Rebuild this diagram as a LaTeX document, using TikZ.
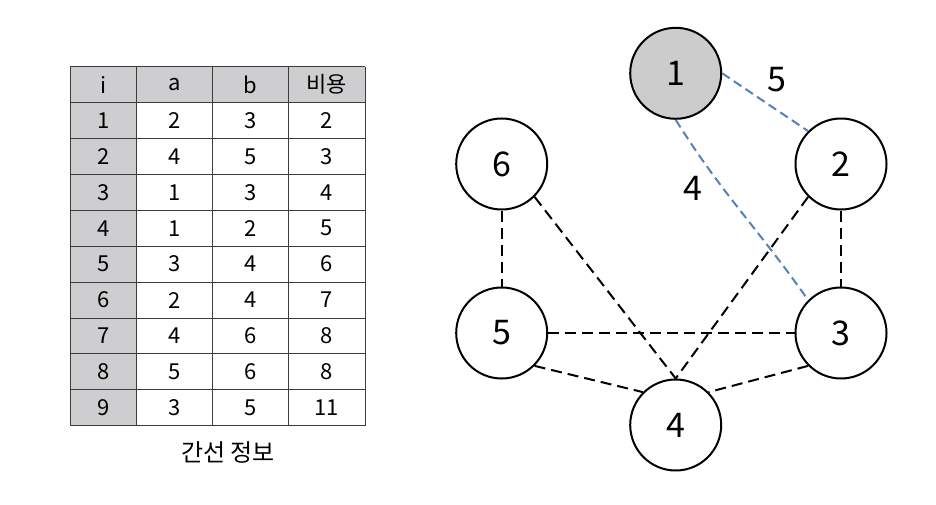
\documentclass[tikz,border=0pt]{standalone}
\usepackage{fontspec}
\setmainfont{Noto Sans CJK KR}
\definecolor{cellgray}{RGB}{206,205,207}
\definecolor{nodegray}{RGB}{204,204,204}
\definecolor{edgeblue}{RGB}{84,130,182}
\definecolor{tline}{RGB}{60,60,60}
\tikzset{
  vtx/.style={circle,draw=black,line width=2pt,minimum size=91pt,inner sep=0pt,font=\fontsize{34}{40}\selectfont},
  start/.style={vtx,fill=nodegray},
  edgeblk/.style={line width=2pt,dash pattern=on 11pt off 6pt},
  edgeblu/.style={line width=2pt,draw=edgeblue,dash pattern=on 9pt off 5pt},
  elabel/.style={font=\fontsize{34}{40}\selectfont,inner sep=0pt},
  cell/.style={font=\fontsize{22}{26}\selectfont,inner sep=0pt},
  caption/.style={font=\fontsize{24}{28}\selectfont,inner sep=0pt},
  gridln/.style={draw=tline,line width=1pt}
}
\begin{document}
\begin{tikzpicture}[x=1pt,y=-1pt]
\useasboundingbox (0,0) rectangle (936,505);
% ---- table ----
\fill[cellgray] (70,66.7) rectangle (365,102.6);
\fill[cellgray] (70,102.6) rectangle (136.7,425.7);
\foreach \k in {0,...,10}{
  \draw[gridln] (70,66.7+\k*35.9) -- (365,66.7+\k*35.9);
}
\foreach \xx in {70,136.7,212.3,288.7,365}{
  \draw[gridln] (\xx,66.7) -- (\xx,425.7);
}
\node[cell] (h-i) at (103.35,84.65) {i};
\node[cell] (h-a) at (174.5,84.65) {a};
\node[cell] (h-b) at (250.5,84.65) {b};
\node[cell] (h-c) at (326.85,84.65) {비용};
\foreach \r/\i/\a/\b/\c in {1/1/2/3/2,2/2/4/5/3,3/3/1/3/4,4/4/1/2/5,5/5/3/4/6,6/6/2/4/7,7/7/4/6/8,8/8/5/6/8,9/9/3/5/11}{
  \node[cell] (r\r-i) at (103.35,84.65+\r*35.9) {\i};
  \node[cell] (r\r-a) at (174.5,84.65+\r*35.9) {\a};
  \node[cell] (r\r-b) at (250.5,84.65+\r*35.9) {\b};
  \node[cell] (r\r-c) at (326.85,84.65+\r*35.9) {\c};
}
\node[caption] (cap) at (228,452) {간선 정보};
% ---- graph ----
\node[start] (n1) at (675.7,73.3) {1};
\node[vtx] (n2) at (841,164) {2};
\node[vtx] (n6) at (501.7,164) {6};
\node[vtx] (n5) at (501.7,333) {5};
\node[vtx] (n3) at (841,333) {3};
\node[vtx] (n4) at (675.7,425) {4};
\draw[edgeblk] (n6.south) -- (n5.north);
\draw[edgeblk] (n6.south east) -- (n4.north);
\draw[edgeblk] (n2.south west) -- (n4.north);
\draw[edgeblk] (n2.south) -- (n3.north);
\draw[edgeblk] (n5.east) -- (n3.west);
\draw[edgeblk] (n5.south east) -- (n4.north west);
\draw[edgeblk] (n3.south west) -- (n4.north east);
\draw[edgeblu] (n1.east) -- (n2.north west);
\draw[edgeblu] (n1.south) to[out=-58,in=125] (n3.north west);
\node[elabel] (w12) at (777.3,80) {5};
\node[elabel] (w13) at (693.3,188.3) {4};
\end{tikzpicture}
\end{document}
